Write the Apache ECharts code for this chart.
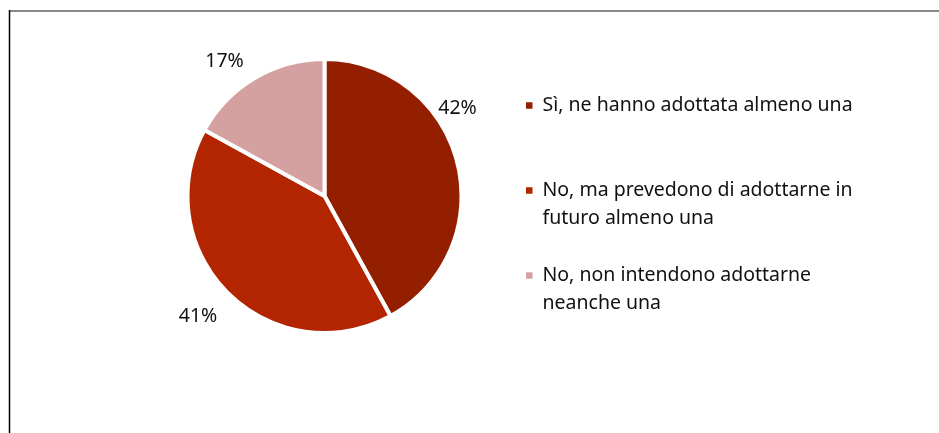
<!DOCTYPE html>
<html>
<head>
<meta charset="utf-8">
<script src="https://cdn.jsdelivr.net/npm/echarts@6/dist/echarts.min.js"></script>
<style>
  html, body { margin: 0; padding: 0; background: #ffffff; }
  #chart { width: 939px; height: 433px; }
</style>
</head>
<body>
<div id="chart"></div>
<script>
// ---- data ----
const categories = [
  'Sì, ne hanno adottata almeno una',
  'No, ma prevedono di adottarne in\nfuturo almeno una',
  'No, non intendono adottarne\nneanche una'
];
const values = [42, 41, 17];
const colors = ['#931F00', '#B22500', '#D4A1A0'];

// label anchor points (pixel centres of the percentage labels)
const labelAnchors = [[457.5, 108.5], [198, 316.5], [224.5, 61.5]];

const FONT = '"Noto Sans", sans-serif';
const chart = echarts.init(document.getElementById('chart'), null, { renderer: 'canvas' });

chart.setOption({
  animation: false,
  backgroundColor: '#ffffff',
  color: colors,
  legend: {
    orient: 'vertical',
    left: 524,
    top: 63.5,
    padding: 0,
    itemGap: 1,
    itemWidth: 8.5,
    itemHeight: 8.5,
    icon: 'rect',
    selectedMode: false,
    data: categories,
    // centre the first line of each entry on its marker
    formatter: function (name) {
      return name.indexOf('\n') >= 0 ? '\n' + name : '\n' + name + '\n';
    },
    textStyle: {
      fontFamily: FONT,
      fontSize: 19.5,
      lineHeight: 28,
      color: '#111111',
      padding: [0, 0, 0, 4]
    }
  },
  graphic: [
    { type: 'line', shape: { x1: 9, y1: 11, x2: 939, y2: 11 }, style: { stroke: '#888888', lineWidth: 2 } },
    { type: 'line', shape: { x1: 9.5, y1: 10, x2: 9.5, y2: 433 }, style: { stroke: '#000000', lineWidth: 1.5 } }
  ],
  series: [{
    type: 'pie',
    center: [324.5, 196],
    radius: 137,
    startAngle: 90,
    clockwise: true,
    avoidLabelOverlap: false,
    itemStyle: { borderColor: '#ffffff', borderWidth: 4 },
    label: {
      show: true,
      position: 'outside',
      formatter: '{d}%',
      fontFamily: FONT,
      fontSize: 19.5,
      color: '#111111'
    },
    labelLine: { show: false },
    labelLayout: function (p) {
      const a = labelAnchors[p.dataIndex];
      return { x: a[0], y: a[1], align: 'center', verticalAlign: 'middle' };
    },
    emphasis: { disabled: true },
    data: categories.map(function (c, i) { return { name: c, value: values[i] }; })
  }]
});
</script>
</body>
</html>
